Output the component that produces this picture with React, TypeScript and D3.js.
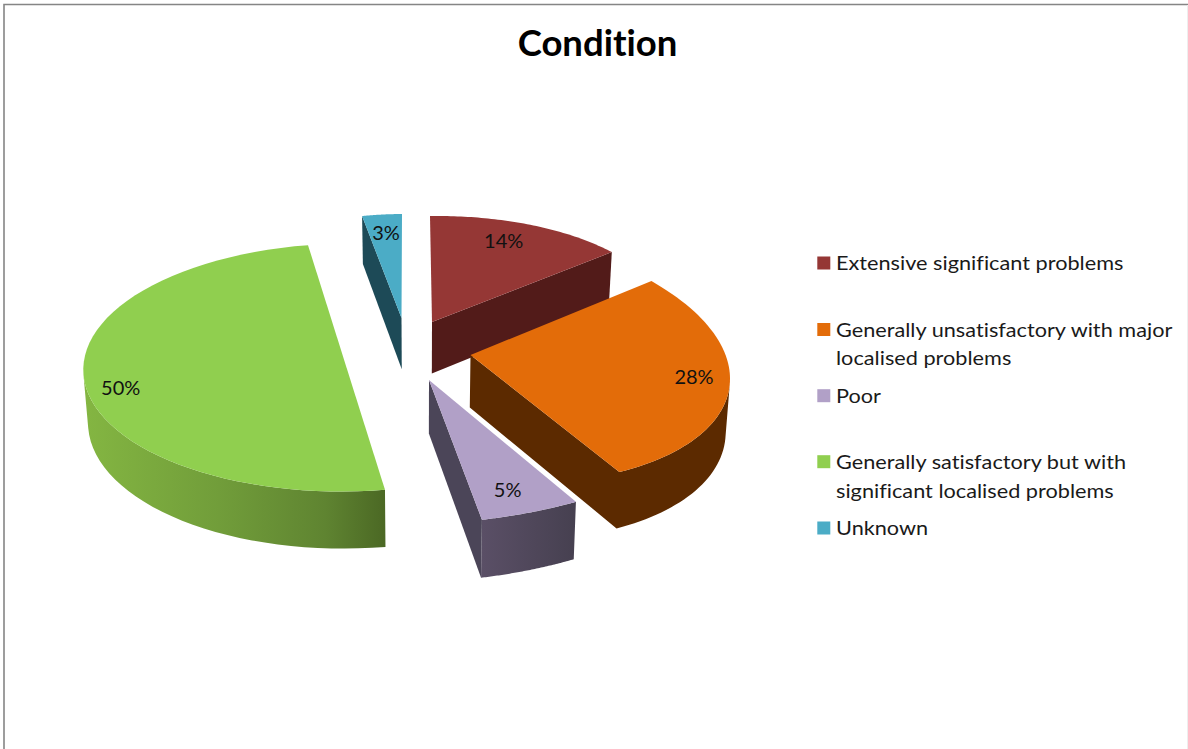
import React from "react";
import * as d3 from "d3";

// Survey shares, in legend order and clockwise from twelve o'clock.
const categories = [
  "Extensive significant problems",
  "Generally unsatisfactory with major localised problems",
  "Poor",
  "Generally satisfactory but with significant localised problems",
  "Unknown",
];
const shares = [14, 28, 5, 50, 3];
const legendLines = [
  ["Extensive significant problems"],
  ["Generally unsatisfactory with major", "localised problems"],
  ["Poor"],
  ["Generally satisfactory but with", "significant localised problems"],
  ["Unknown"],
];

const topColors = ["#953735", "#e36c09", "#b1a0c7", "#90cf4f", "#4bacc6"];
const sideColors = ["#521b19", "#5c2a00", "#4b4558", "url(#greenWall)", "#1d4a57"];
const wallColors = ["#521b19", "#5c2a00", "url(#purpleWall)", "url(#greenWall)", "#1d4a57"];

const WIDTH = 1188;
const HEIGHT = 749;
const FONT = "Lato, Carlito, sans-serif";
const LEGEND_ROWS = [263, 329.5, 395.7, 461.7, 528];

// Each exploded slice sits on its own tilted plane: origin plus a 2x2 map of the unit circle.
type Pt = [number, number];
type View = { x: number; y: number; a: number; b: number; c: number; d: number };
const views: View[] = [
  { x: 432, y: 322, a: 235, b: 2, c: -3, d: 106 },
  { x: 470.5, y: 355, a: 258, b: 28, c: 10, d: 128 },
  { x: 429, y: 380, a: 317, b: -6.6, c: -9, d: 144 },
  { x: 346.5, y: 367.5, a: 263, b: -11, c: 3, d: 124 },
  { x: 401.5, y: 318, a: 213, b: -0.5, c: -1, d: 104 },
];
// Reach along the mid-angle, and vertical lift, for each percentage label.
const labelPlacement = [
  [0.73, -11],
  [0.864, -8],
  [0.777, 6],
  [0.867, 2],
  [0.79, -4],
];

const project = (v: View, theta: number, reach = 1): Pt => {
  const u = Math.sin(theta);
  const w = -Math.cos(theta);
  return [v.x + (v.a * u + v.b * w) * reach, v.y + (v.c * u + v.d * w) * reach];
};

// The lower rim: extrusion grows toward the viewer and converges slightly on the middle.
const depthAt = d3.scaleLinear().domain([216, 520]).range([48, 58]);
const lower = ([x, y]: Pt): Pt => [x - (x - 420) * 0.014, y + depthAt(y)];

const toPath = d3.line<Pt>();
const slices = d3.pie<number>().sort(null).value((d) => d)(shares);

const rim = (v: View, start: number, end: number) =>
  d3.range(0, 61).map((i) => project(v, start + ((end - start) * i) / 60));

// Only the viewer-facing quads of the outer wall are drawn, so no dark edge bleeds round the far rim.
const wallPath = (top: Pt[]) =>
  d3
    .pairs(top)
    .map(([p, q]): Pt[] => [p, q, lower(q), lower(p)])
    .filter((quad) => d3.polygonArea(quad) > 0)
    .map((quad) => toPath(quad) + "Z")
    .join("");

// A cut face shows only when the slice's top lies above its edge on screen.
const cutFacePath = (apex: Pt, corner: Pt, inner: Pt) => {
  const run = corner[0] - apex[0];
  if (Math.abs(run) < 3) return "";
  const edgeY = apex[1] + ((corner[1] - apex[1]) * (inner[0] - apex[0])) / run;
  if (inner[1] >= edgeY) return "";
  const face: Pt[] = [apex, corner, lower(corner), lower(apex)];
  const wound = d3.polygonArea(face) < 0 ? face.slice().reverse() : face;
  return toPath(wound) + "Z";
};

export default function App() {
  return (
    <svg
      width={WIDTH}
      height={HEIGHT}
      viewBox={`0 0 ${WIDTH} ${HEIGHT}`}
      style={{ position: "absolute", left: 0, top: 0, background: "#fff", fontVariantLigatures: "none" }}
    >
      <defs>
        <linearGradient id="greenWall" gradientUnits="userSpaceOnUse" x1={83} y1={0} x2={386} y2={0}>
          <stop offset="0" stopColor="#84b642" />
          <stop offset="0.45" stopColor="#719d3a" />
          <stop offset="0.8" stopColor="#5f8431" />
          <stop offset="1" stopColor="#4b6824" />
        </linearGradient>
        <linearGradient id="purpleWall" gradientUnits="userSpaceOnUse" x1={482} y1={0} x2={576} y2={0}>
          <stop offset="0" stopColor="#5a4f66" />
          <stop offset="1" stopColor="#464050" />
        </linearGradient>
      </defs>

      <path d={`M4 ${HEIGHT}V4.5H${WIDTH}`} fill="none" stroke="#858585" strokeWidth={1.6} />
      <line x1={WIDTH - 0.5} y1={5} x2={WIDTH - 0.5} y2={HEIGHT} stroke="#eeeeee" />

      <text x={597.5} y={56} textAnchor="middle" fontFamily={FONT} fontWeight={700} fontSize={36.5} fill="#000">
        Condition
      </text>

      {slices.map((s, i) => {
        const v = views[i];
        const top = rim(v, s.startAngle, s.endAngle);
        const apex = project(v, 0, 0);
        const inner = project(v, (s.startAngle + s.endAngle) / 2, 0.5);
        const cuts =
          cutFacePath(apex, top[0], inner) + cutFacePath(apex, top[top.length - 1], inner);
        const wall = wallPath(top);
        const sameFill = sideColors[i] === wallColors[i];
        return (
          <g key={categories[i]}>
            {sameFill ? (
              <path d={cuts + wall} fill={wallColors[i]} />
            ) : (
              <>
                <path d={wall} fill={wallColors[i]} />
                <path d={cuts} fill={sideColors[i]} />
              </>
            )}
            <path d={toPath([apex, ...top]) + "Z"} fill={topColors[i]} />
          </g>
        );
      })}

      {slices.map((s, i) => {
        const [reach, lift] = labelPlacement[i];
        const [x, y] = project(views[i], (s.startAngle + s.endAngle) / 2, reach);
        return (
          <text
            key={categories[i]}
            x={x}
            y={y + lift}
            textAnchor="middle"
            dominantBaseline="central"
            fontFamily={FONT}
            fontSize={20}
            fill="#111"
          >
            {`${s.data}%`}
          </text>
        );
      })}

      {categories.map((name, i) => {
        const rowY = LEGEND_ROWS[i];
        return (
          <g key={name}>
            <rect x={817.3} y={rowY - 6.5} width={13} height={13} fill={topColors[i]} />
            {legendLines[i].map((line, j) => (
              <text
                key={line}
                transform={`translate(836,${rowY + 7 + j * 28.8}) scale(1.085,1)`}
                fontFamily={FONT}
                fontSize={20}
                fill="#1a1a1a"
              >
                {line}
              </text>
            ))}
          </g>
        );
      })}
    </svg>
  );
}
